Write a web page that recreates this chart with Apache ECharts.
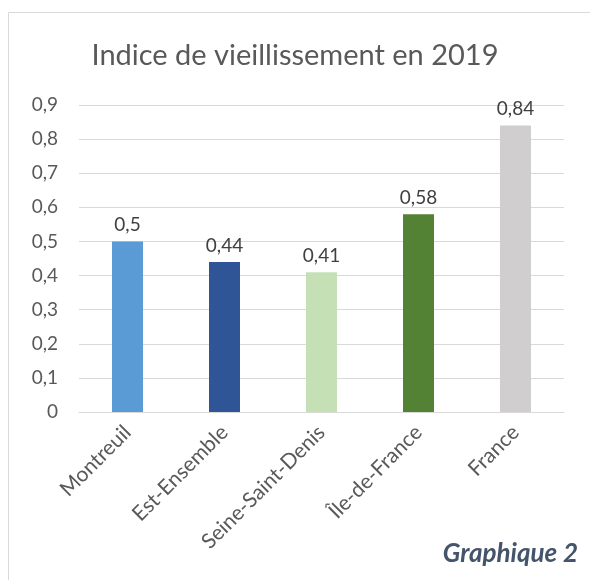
<!DOCTYPE html>
<html style="height: 100%">
<head>
    <meta charset="UTF-8">
    <title>Indice de vieillissement</title>
    <script type="text/javascript" src="https://cdn.jsdelivr.net/npm/echarts/dist/echarts.min.js"></script>
</head>
<body style="height: 100%; margin: 0; background: #fff">
    <div id="container" style="width: 590px; height: 580px"></div>
<script>
    var territoires = ['Montreuil', 'Est-Ensemble', 'Seine-Saint-Denis', 'Île-de-France', 'France'];
    var indices = [0.5, 0.44, 0.41, 0.58, 0.84];
    var couleurs = ['#5B9BD5', '#2F5597', '#C5E0B4', '#548235', '#D0CECE'];

    var virgule = function (v) { return String(v).replace('.', ','); };
    var police = 'Lato';

    var myChart = echarts.init(document.getElementById('container'));
    var option = {
        animation: false,
        textStyle: { fontFamily: police },
        title: {
            text: 'Indice de vieillissement en 2019',
            left: 'center',
            top: 36,
            textStyle: { fontFamily: police, fontSize: 29, fontWeight: 'normal', color: '#595959' }
        },
        graphic: [
            {
                type: 'rect',
                shape: { x: 8.5, y: 12.5, width: 700, height: 700 },
                style: { fill: 'none', stroke: '#D9D9D9', lineWidth: 1 },
                silent: true
            },
            {
                type: 'text',
                right: 12,
                top: 541,
                style: {
                    text: 'Graphique 2',
                    fill: '#44546A',
                    font: 'italic bold 26px ' + police
                }
            }
        ],
        grid: { left: 79, right: 26, top: 105, bottom: 168 },
        xAxis: {
            type: 'category',
            data: territoires,
            axisTick: { show: false },
            axisLine: { lineStyle: { color: '#D9D9D9', width: 1 } },
            axisLabel: { rotate: 45, color: '#595959', fontSize: 21, margin: 17, interval: 0 }
        },
        yAxis: {
            type: 'value',
            min: 0,
            max: 0.9,
            interval: 0.1,
            axisLine: { show: false },
            axisTick: { show: false },
            splitLine: { lineStyle: { color: '#D9D9D9' } },
            axisLabel: { color: '#595959', fontSize: 19, margin: 21, formatter: virgule }
        },
        series: [{
            type: 'bar',
            barWidth: 31,
            data: indices.map(function (v, i) {
                return { value: v, itemStyle: { color: couleurs[i] } };
            }),
            label: {
                show: true,
                position: 'top',
                distance: 7,
                color: '#404040',
                fontSize: 19,
                formatter: function (p) { return virgule(p.value); }
            }
        }]
    };
    myChart.setOption(option);
</script>
</body>
</html>
